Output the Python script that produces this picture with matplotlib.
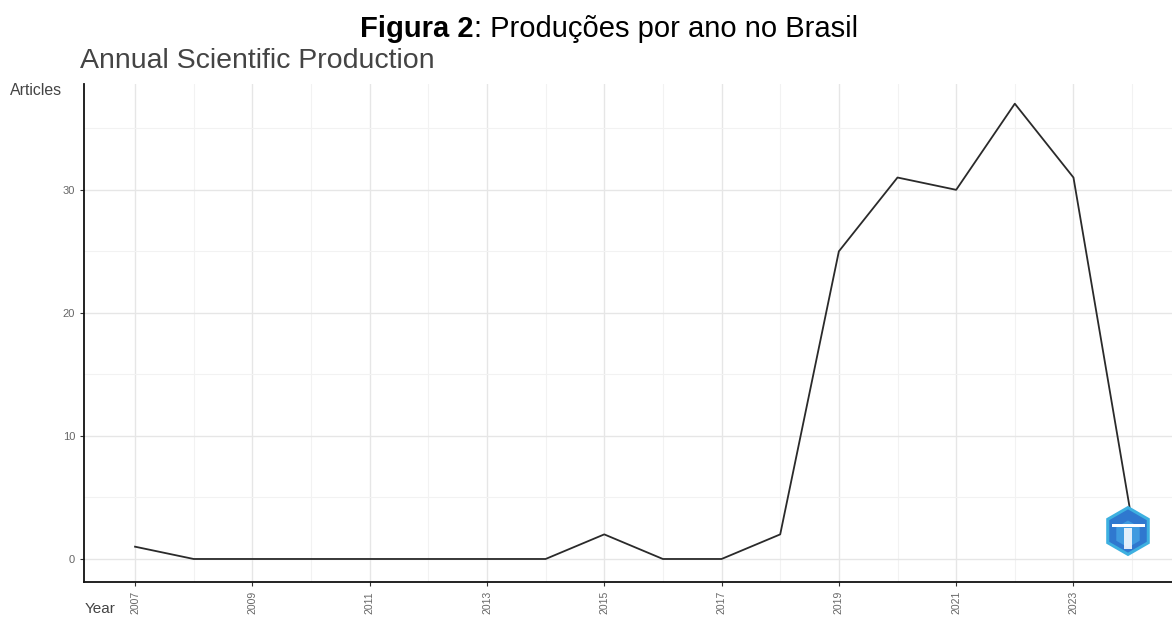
import matplotlib
matplotlib.use("Agg")
import matplotlib.pyplot as plt
from matplotlib.patches import RegularPolygon, Rectangle
from matplotlib.ticker import MultipleLocator

years = [2007, 2008, 2009, 2010, 2011, 2012, 2013, 2014, 2015,
         2016, 2017, 2018, 2019, 2020, 2021, 2022, 2023, 2024]
articles = [1, 0, 0, 0, 0, 0, 0, 0, 2, 0, 0, 2, 25, 31, 30, 37, 31, 3]
year_ticks = [2007, 2009, 2011, 2013, 2015, 2017, 2019, 2021, 2023]
article_ticks = [0, 10, 20, 30]

plt.rcParams['font.family'] = ['Liberation Sans', 'DejaVu Sans']

W, H = 1172, 628
fig = plt.figure(figsize=(W / 100, H / 100), dpi=100)
ax = fig.add_axes([84 / W, 1 - 582 / H, 1 - 84 / W, (582 - 84) / H])

ax.plot(years, articles, color='#2a2a2a', linewidth=1.3)

ax.set_xlim(2006.13, 2024.68)
ax.set_ylim(-1.87, 38.6)
ax.set_xticks(year_ticks)
ax.set_xticklabels([str(y) for y in year_ticks], rotation=90)
ax.xaxis.set_minor_locator(MultipleLocator(1))
ax.set_yticks(article_ticks)
ax.yaxis.set_minor_locator(MultipleLocator(5))

ax.grid(True, which='major', color='#e6e6e6', linewidth=1.0)
ax.grid(True, which='minor', color='#f2f2f2', linewidth=0.8)
ax.set_axisbelow(True)

for side in ['top', 'right']:
    ax.spines[side].set_visible(False)
for side in ['left', 'bottom']:
    ax.spines[side].set_color('#111111')
    ax.spines[side].set_linewidth(1.3)

ax.tick_params(axis='x', which='major', labelsize=7.5, labelcolor='#666666',
               color='#333333', length=3)
ax.tick_params(axis='y', which='major', labelsize=8, labelcolor='#666666',
               color='#333333', length=3)
ax.tick_params(axis='both', which='minor', length=0)

# bibliometrix-style badge in the corner
lax = fig.add_axes([(1128 - 30) / W, 1 - (531 + 30) / H, 60 / W, 60 / H])
lax.set_xlim(-1, 1)
lax.set_ylim(-1, 1)
lax.set_aspect('equal')
lax.axis('off')
lax.add_patch(RegularPolygon((0, 0), numVertices=6, radius=0.78,
                             facecolor='#2f78cf', edgecolor='#3db0e0',
                             linewidth=2.2))
lax.add_patch(RegularPolygon((0, -0.1), numVertices=6, radius=0.45,
                             facecolor='#3f9be0', edgecolor='none'))
lax.add_patch(Rectangle((-0.55, 0.12), 1.1, 0.12, facecolor='white',
                        edgecolor='none'))
lax.add_patch(Rectangle((-0.12, -0.6), 0.24, 0.7, facecolor='white',
                        edgecolor='none', alpha=0.85))

# figure caption: bold part then regular part
fig.canvas.draw()
renderer = fig.canvas.get_renderer()
x0 = 360 / W
y0 = 1 - 37 / H
t_bold = fig.text(x0, y0, 'Figura 2', ha='left', va='baseline',
                  fontsize=21, fontweight='bold', color='black')
bb = t_bold.get_window_extent(renderer=renderer)
fig.text(bb.x1 / W, y0, ': Produções por ano no Brasil', ha='left',
         va='baseline', fontsize=21, color='black')

fig.text(80 / W, 1 - 68 / H, 'Annual Scientific Production', ha='left',
         va='baseline', fontsize=20.5, color='#444444')
fig.text(10 / W, 1 - 95 / H, 'Articles', ha='left', va='baseline',
         fontsize=11.4, color='#444444')
fig.text(85 / W, 1 - 613 / H, 'Year', ha='left', va='baseline', fontsize=11,
         color='#444444')

fig.savefig('out.png', dpi=100)
